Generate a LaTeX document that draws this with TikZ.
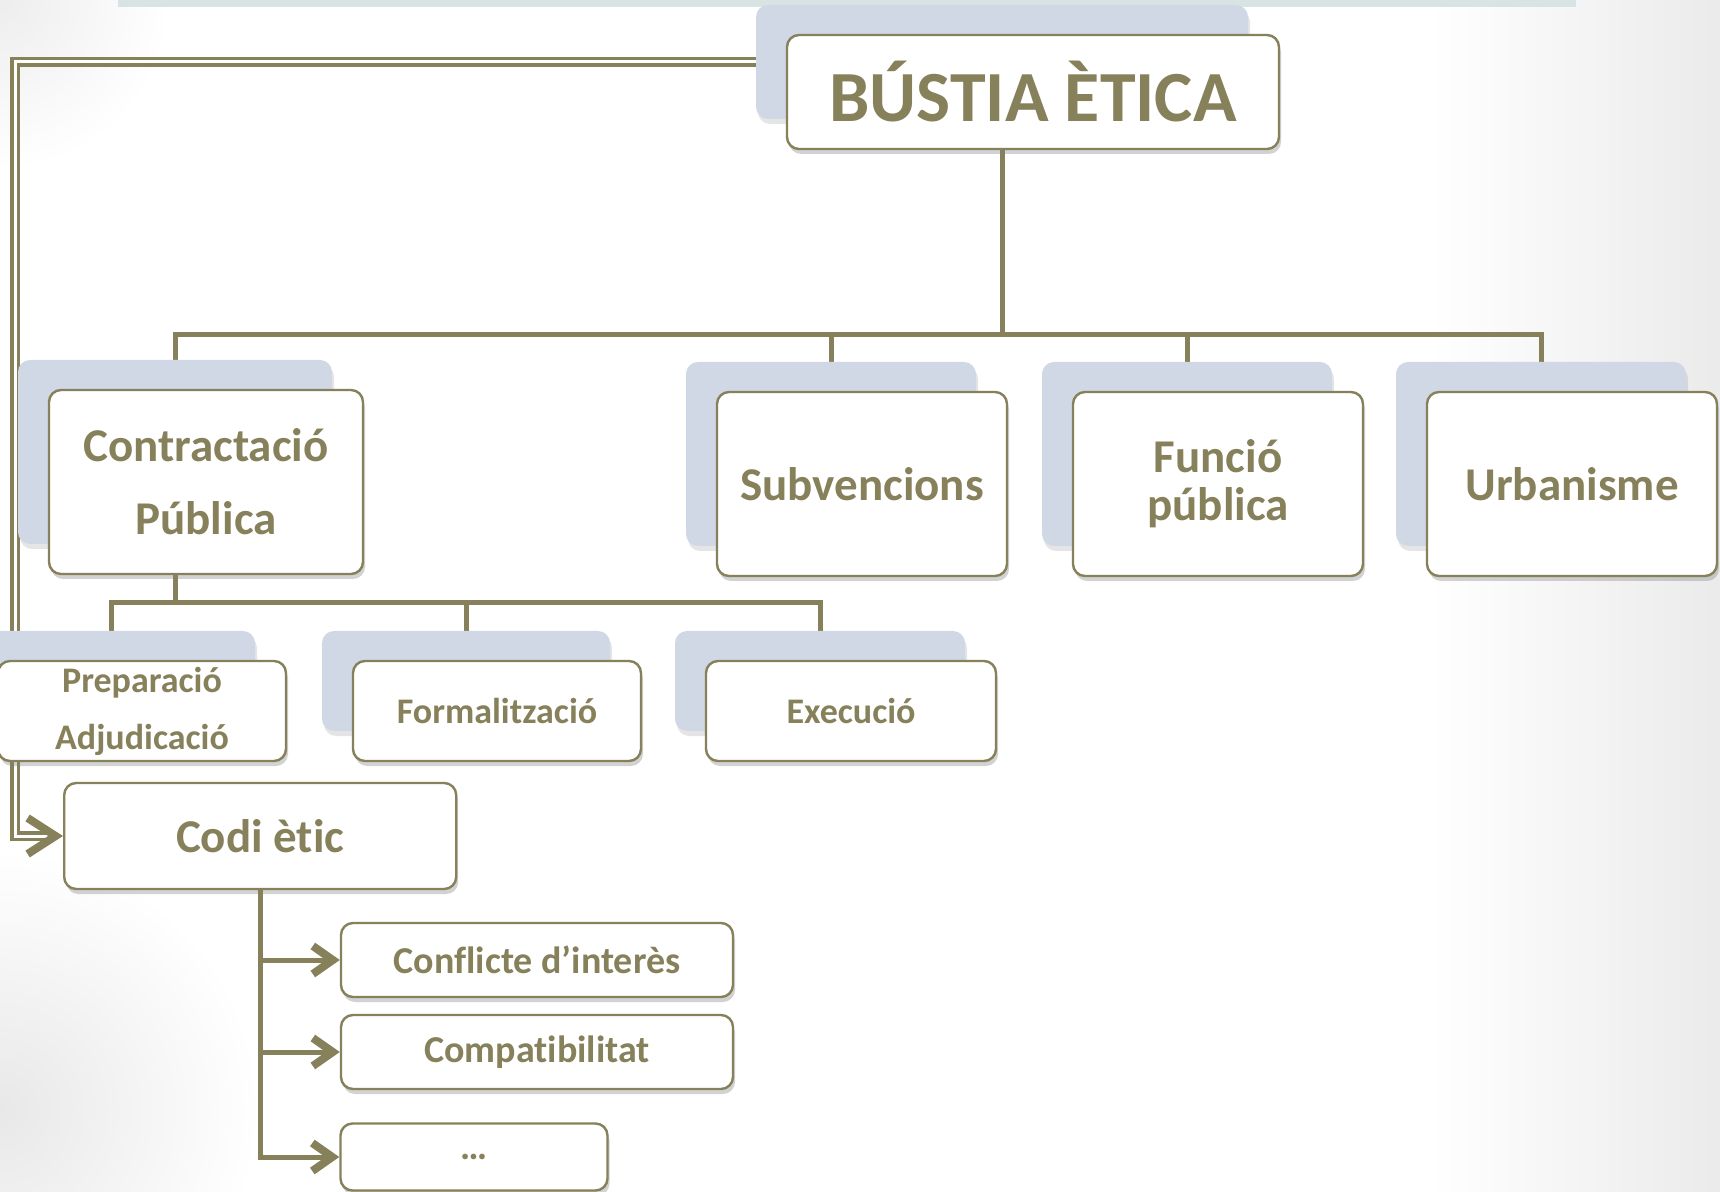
\documentclass[tikz,border=0pt]{standalone}
\usepackage{fontspec}
\setmainfont{Carlito}[Ligatures=NoCommon]
\usetikzlibrary{arrows.meta,positioning,shadows}
\definecolor{olivedark}{RGB}{134,129,91}
\definecolor{boxlilac}{RGB}{208,216,230}
\definecolor{bandgrey}{RGB}{216,228,228}
\pgfdeclarelayer{bg}
\pgfdeclarelayer{wires}
\pgfsetlayers{bg,wires,main}
\tikzset{
    frontbox/.style={rectangle, rounded corners=6pt, draw=olivedark, line width=1.2pt, fill=white, text=olivedark, align=center, inner sep=0pt, drop shadow={shadow xshift=1pt, shadow yshift=-2.5pt, opacity=0.35}},
    backbox/.style={rectangle, rounded corners=6pt, fill=boxlilac, inner sep=0pt, drop shadow={shadow xshift=1pt, shadow yshift=-2.5pt, opacity=0.2}},
    topsize/.style={minimum width=246pt, minimum height=57pt},
    areasize/.style={minimum width=145pt, minimum height=92pt},
    phasesize/.style={minimum width=144pt, minimum height=50pt},
    itemsize/.style={minimum width=196pt, minimum height=37pt},
    bigfont/.style={font=\bfseries\fontsize{36}{40}\selectfont},
    areafont/.style={font=\bfseries\fontsize{23.5}{36.5}\selectfont},
    phasefont/.style={font=\bfseries\fontsize{18}{28.5}\selectfont},
    itemfont/.style={font=\bfseries\fontsize{19}{22}\selectfont},
    link/.style={draw=olivedark, line width=2.5pt},
    linkarrow/.style={link, -{Straight Barb[length=10pt,width=14pt,line width=4pt]}},
    dbllink/.style={draw=olivedark, line width=1.6pt, double=white, double distance=1.5pt}
}
\begin{document}
\begin{tikzpicture}[x=0.5pt, y=-0.5pt]
\useasboundingbox (0,0) rectangle (1720,1192);
\clip (0,0) rectangle (1720,1192);

% background
\begin{pgfonlayer}{bg}
\fill[white] (0,0) rectangle (1720,1192);
\shade[left color=white, right color=black!8] (1430,0) rectangle (1720,1192);
\shade[inner color=black!9, outer color=white] (0,1110) circle (260);
\shade[inner color=black!7, outer color=white] (0,0) circle (170);
\fill[bandgrey] (118,0) rectangle (1576,7);
\end{pgfonlayer}

% back boxes
\node[backbox, topsize] (bback) at (1002,62) {};
\node[backbox, areasize, minimum width=157pt] (cback) at (175,452) {};
\node[backbox, areasize] (sback) at (831,454) {};
\node[backbox, areasize] (fback) at (1187,454) {};
\node[backbox, areasize] (uback) at (1541,454) {};
\node[backbox, phasesize] (pback) at (111,681) {};
\node[backbox, phasesize] (foback) at (466,681) {};
\node[backbox, phasesize, minimum width=145pt] (eback) at (820,681) {};

\coordinate (bar1) at (0,335);
\coordinate (bar2) at (0,603);
\coordinate (codiin) at (63,836);

% connectors
\begin{pgfonlayer}{wires}
\draw[dbllink] (bback.west) -| ([xshift=-24pt]codiin) -- ([xshift=-6pt]codiin);
\foreach \n in {cback,sback,fback,uback}
    \draw[link] (bback.south) |- (\n.north |- bar1) -- (\n.north);
\foreach \n in {pback,foback,eback}
    \draw[link] (cback.south) |- (\n.north |- bar2) -- (\n.north);
\end{pgfonlayer}

% front boxes
\node[frontbox, topsize, bigfont] (bustia) at ([xshift=15.5pt,yshift=-15pt]bback.center) {BÚSTIA ÈTICA};
\node[frontbox, areasize, minimum width=157pt, areafont] (contr) at ([xshift=15.5pt,yshift=-15pt]cback.center) {Contractació\\Pública};
\node[frontbox, areasize, areafont] (subv) at ([xshift=15.5pt,yshift=-15pt]sback.center) {Subvencions};
\node[frontbox, areasize, areafont, font=\bfseries\fontsize{23.5}{24}\selectfont] (funcio) at ([xshift=15.5pt,yshift=-15pt]fback.center) {Funció\\pública};
\node[frontbox, areasize, areafont] (urban) at ([xshift=15.5pt,yshift=-15pt]uback.center) {Urbanisme};
\node[frontbox, phasesize, phasefont] (prep) at ([xshift=15.5pt,yshift=-15pt]pback.center) {Preparació\\Adjudicació};
\node[frontbox, phasesize, phasefont] (formal) at ([xshift=15.5pt,yshift=-15pt]foback.center) {Formalització};
\node[frontbox, phasesize, minimum width=145pt, phasefont] (exec) at ([xshift=15.5pt,yshift=-15pt]eback.center) {Execució};

% codi etic
\node[frontbox, anchor=west, minimum width=196pt, minimum height=53pt, areafont] (codi) at (codiin) {Codi ètic};
\draw[link, line width=1pt, -{Straight Barb[length=14pt,width=18pt,line width=4pt]}] ([xshift=-2pt]codi.west) -- (codi.west);

\node[frontbox, itemsize, itemfont] (confl) at (537,960) {Conflicte d’interès};
\node[frontbox, itemsize, itemfont] (compat) at (537,1052) {Compatibilitat};
\node[frontbox, itemsize, minimum width=133.5pt, minimum height=33.5pt, itemfont] (others) at (474,1157) {…};

\foreach \n in {confl,compat,others}
    \draw[linkarrow] (codi.south) |- (\n.west);

\end{tikzpicture}
\end{document}
